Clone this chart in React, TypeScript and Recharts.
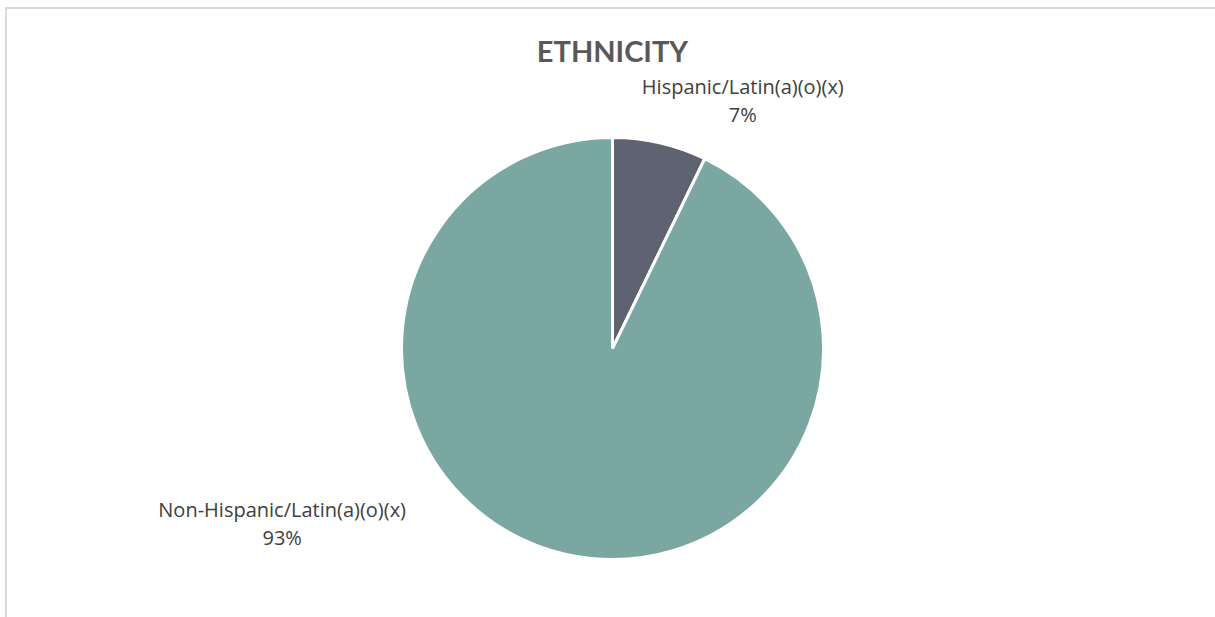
import React from "react";
import { PieChart, Pie, Cell } from "recharts";

const categories = ["Hispanic/Latin(a)(o)(x)", "Non-Hispanic/Latin(a)(o)(x)"];
const shares = [7.2, 92.8];
const colors = ["#5F6270", "#7BA7A3"];

const data = categories.map((name, i) => ({ name, value: shares[i] }));

const RAD = Math.PI / 180;
// label offsets relative to each slice's outer mid point
const labelOffsets = [
  { dx: 83, dy: -49 },
  { dx: -283, dy: -37 },
];

const renderLabel = (props: any) => {
  const { cx, cy, midAngle, outerRadius, index, name, percent } = props;
  const px = cx + outerRadius * Math.cos(-midAngle * RAD);
  const py = cy + outerRadius * Math.sin(-midAngle * RAD);
  const off = labelOffsets[index];
  const x = px + off.dx;
  const y = py + off.dy;
  return (
    <text
      key={`lbl-${index}`}
      x={x}
      y={y}
      textAnchor="middle"
      fill="#404040"
      fontFamily="'Open Sans', Lato, sans-serif"
      fontSize={20}
    >
      <tspan x={x} dy={0}>{name}</tspan>
      <tspan x={x} dy={28}>{`${Math.round(percent * 100)}%`}</tspan>
    </text>
  );
};

export default function App() {
  return (
    <div
      style={{
        position: "absolute",
        left: 0,
        top: 0,
        width: 1215,
        height: 617,
        overflow: "hidden",
        background: "#fff",
      }}
    >
      <div
        style={{
          position: "absolute",
          left: 5,
          top: 7,
          width: 1400,
          height: 800,
          border: "2px solid #d9d9d9",
          boxSizing: "border-box",
        }}
      />
      <div
        style={{
          position: "absolute",
          left: 0,
          top: 31,
          width: 1225,
          textAlign: "center",
          fontFamily: "Lato, 'Open Sans', sans-serif",
          fontWeight: 700,
          fontSize: 29,
          color: "#595959",
          lineHeight: "40px",
        }}
      >
        ETHNICITY
      </div>
      <div style={{ position: "absolute", left: 0, top: 0 }}>
        <PieChart width={1215} height={617} margin={{ top: 0, right: 0, bottom: 0, left: 0 }}>
          <Pie
            data={data}
            dataKey="value"
            nameKey="name"
            cx={612.5}
            cy={348.5}
            outerRadius={211}
            startAngle={90}
            endAngle={-270}
            stroke="#ffffff"
            strokeWidth={3}
            label={renderLabel}
            labelLine={false}
            isAnimationActive={false}
          >
            {data.map((d, i) => (
              <Cell key={d.name} fill={colors[i]} />
            ))}
          </Pie>
        </PieChart>
      </div>
    </div>
  );
}
